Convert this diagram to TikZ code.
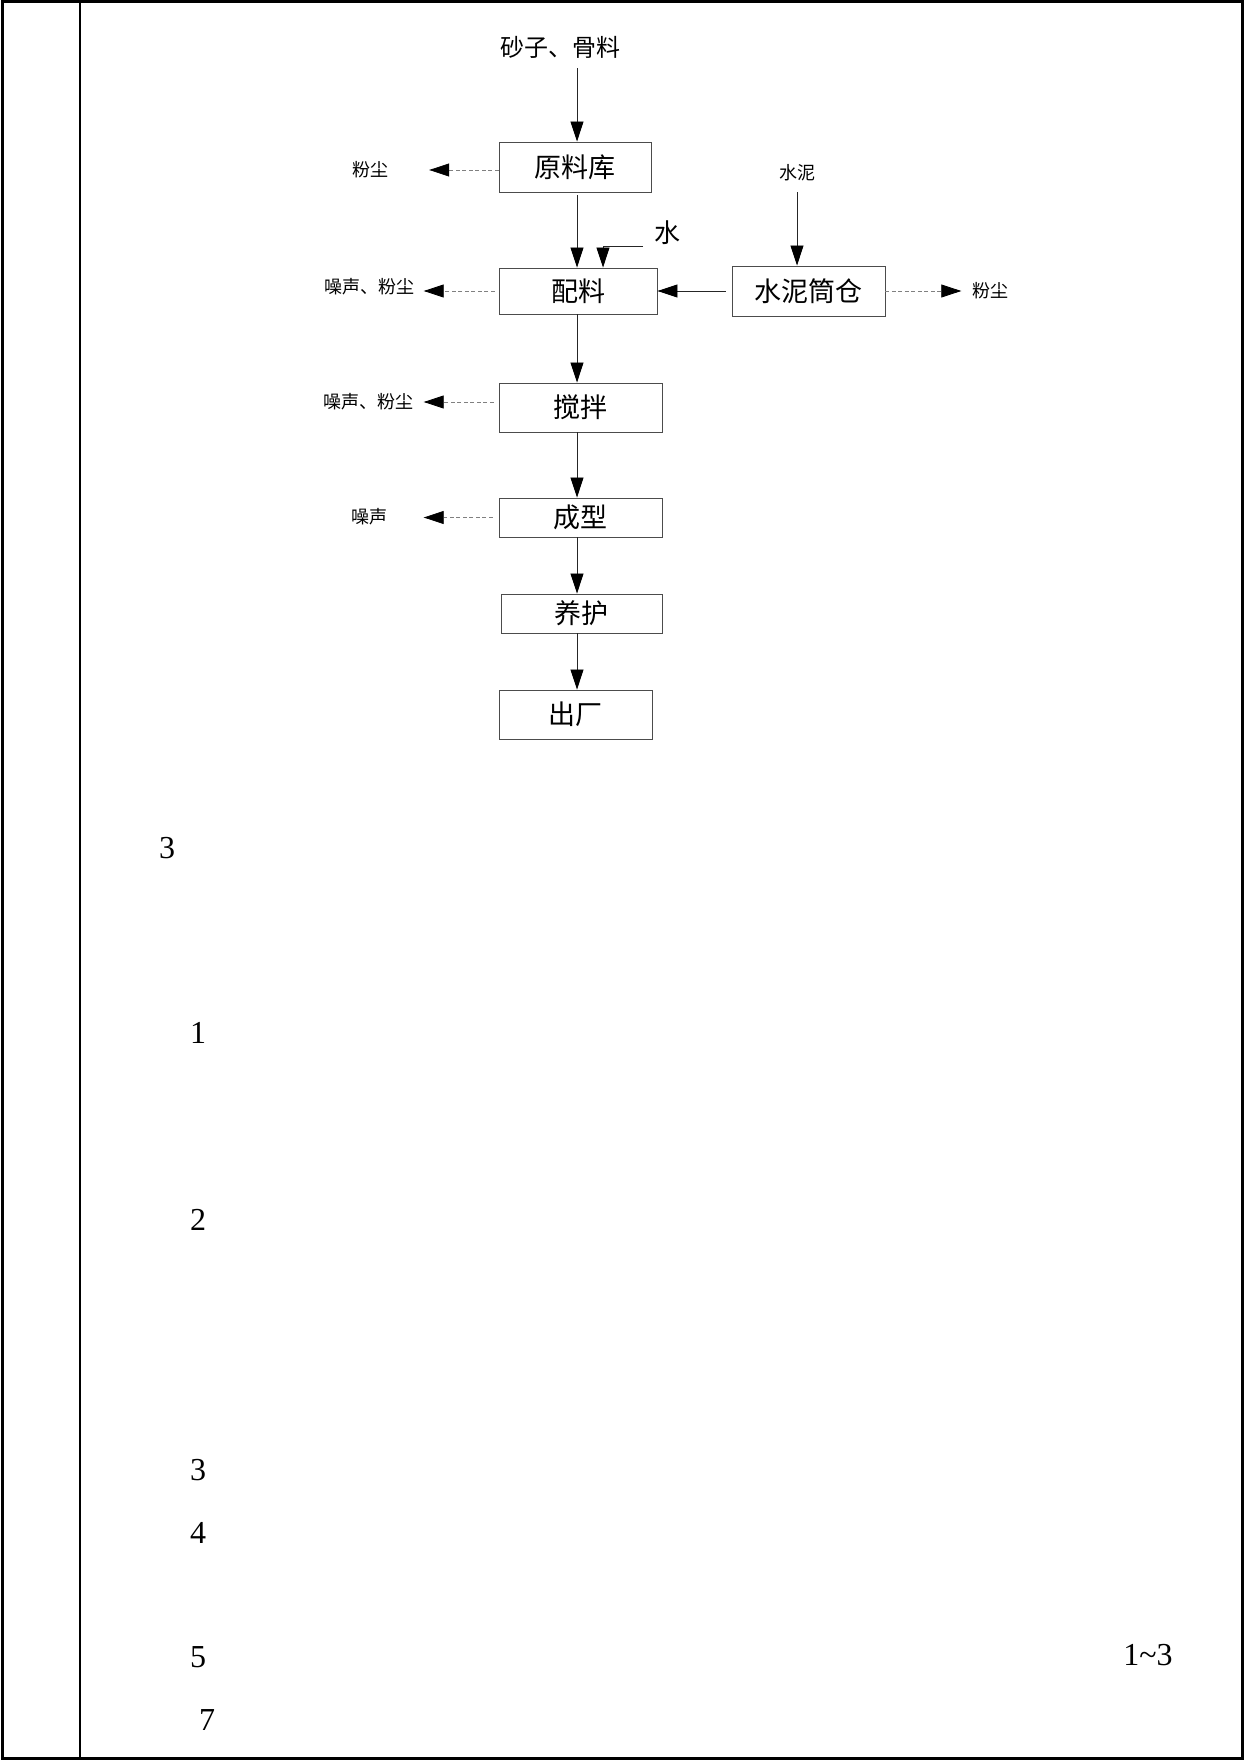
\documentclass[tikz,border=0pt]{standalone}
\usepackage{fontspec}
\setmainfont{Liberation Serif}
\newfontfamily\cjk{Noto Sans CJK SC}
\usetikzlibrary{arrows.meta}
\begin{document}
\begin{tikzpicture}[x=1pt,y=-1pt,
  box/.style={draw=black!70,line width=0.9pt,inner sep=0pt,font=\cjk\fontsize{27}{30}\selectfont},
  lbl/.style={inner sep=0pt,font=\cjk\fontsize{18}{20}\selectfont},
  biglbl/.style={inner sep=0pt,font=\cjk\fontsize{24}{26}\selectfont},
  num/.style={inner sep=0pt,font=\fontsize{32}{34}\selectfont},
  flow/.style={draw=black!85,line width=0.8pt,-{Triangle[length=20pt,width=13pt,fill=black,color=black]}},
  emit/.style={draw=black!50,line width=0.8pt,dash pattern=on 4pt off 2.5pt,-{Triangle[length=20pt,width=13pt,fill=black,color=black]}}
]
\fill[white] (0,0) rectangle (1244,1760);
\useasboundingbox (0,0) rectangle (1244,1760);
\draw[line width=3pt] (2,2) rectangle (1242,1758);
\draw[line width=1.3pt] (80,2) -- (80,1758);

\coordinate (colx) at (577,0);
\coordinate (wx) at (603,0);
\coordinate (shuiL) at (643,246);

% boxes
\node[box,minimum width=152pt,minimum height=50pt] (ylk) at (575,167) {原料库};
\node[box,minimum width=158pt,minimum height=46pt] (pl) at (578,291) {配料};
\node[box,minimum width=153pt,minimum height=50pt] (snt) at (808.5,291) {水泥筒仓};
\node[box,minimum width=163pt,minimum height=49pt] (jb) at (580.5,407.5) {搅拌};
\node[box,minimum width=163pt,minimum height=39pt] (cx) at (580.5,517.5) {成型};
\node[box,minimum width=161pt,minimum height=39pt] (yh) at (581.5,613.5) {养护};
\node[box,minimum width=153pt,minimum height=49pt] (cc) at (575.5,714.5) {出厂};

% input labels
\node[biglbl,minimum height=42pt] (src) at (560,47) {砂子、骨料};
\node[lbl,minimum height=38pt] (sn) at (797,173) {水泥};
\node[inner sep=0pt,font=\cjk\fontsize{26}{28}\selectfont] (shui) at (667,233) {水};

% emission labels
\node[lbl] (e1) at (370,170) {粉尘};
\node[lbl] (e2) at (369.5,287) {噪声、粉尘};
\node[lbl] (e3) at (368.5,402) {噪声、粉尘};
\node[lbl] (e4) at (369.5,517) {噪声};
\node[lbl] (e5) at (990.5,291) {粉尘};

% main flow
\draw[flow] (src.south -| colx) -- (ylk.north -| colx);
\draw[flow,shorten <=3pt] (ylk.south -| colx) -- (pl.north -| colx);
\draw[flow] (shuiL) -| (pl.north -| wx);
\draw[flow] (sn.south) -- (snt.north -| sn.south);
\draw[flow,shorten <=6pt] (snt.west) -- (pl.east);
\draw[flow] (pl.south -| colx) -- (jb.north -| colx);
\draw[flow] (jb.south -| colx) -- (cx.north -| colx);
\draw[flow] (cx.south -| colx) -- (yh.north -| colx);
\draw[flow] (yh.south -| colx) -- (cc.north -| colx);

% emissions
\draw[emit,shorten >=41pt] (ylk.west |- e1) -- (e1.east);
\draw[emit,shorten <=4pt,shorten >=9pt] (pl.west) -- (pl.west -| e2.east);
\draw[emit,shorten <=5pt,shorten >=10pt] (jb.west |- e3) -- (e3.east);
\draw[emit,shorten <=6pt,shorten >=36pt] (cx.west) -- (cx.west -| e4.east);
\draw[emit,shorten >=11pt] (snt.east) -- (snt.east -| e5.west);

% numbers
\node[num] (n0) at (167,848) {3};
\node[num] (n1) at (198,1033) {1};
\node[num] (n2) at (198,1220) {2};
\node[num] (n3) at (198,1470) {3};
\node[num] (n4) at (198,1533) {4};
\node[num] (n5) at (198,1657) {5};
\node[num] (n7) at (207,1720) {7};
\node[num] (n13) at (1148,1655) {1\textasciitilde 3};
\end{tikzpicture}
\end{document}
